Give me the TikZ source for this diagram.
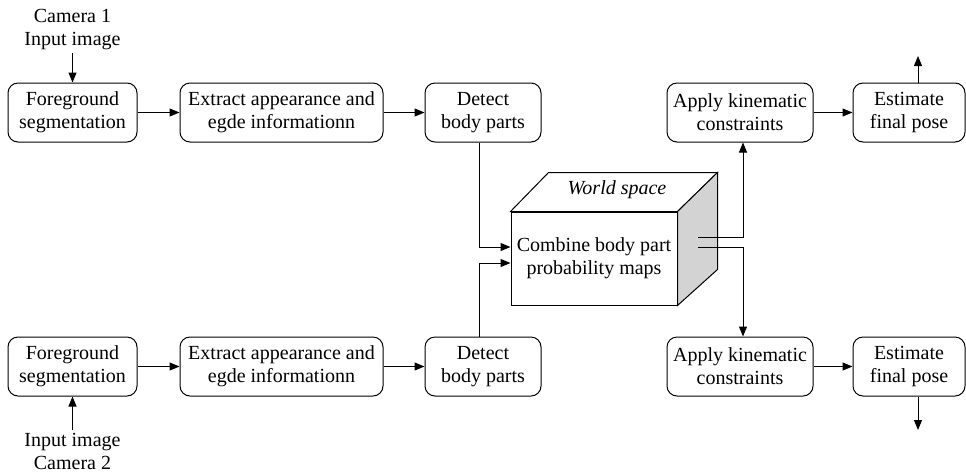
\documentclass[tikz,border=0pt]{standalone}
\usepackage{fontspec}
\setmainfont{Liberation Serif}
\usetikzlibrary{arrows.meta,calc}
\definecolor{sidegray}{RGB}{211,211,211}
\begin{document}
\begin{tikzpicture}[x=0.75pt,y=-0.75pt,
  box/.style={draw, rounded corners=7.5pt, line width=0.75pt, minimum height=44.25pt, align=center, inner sep=0pt},
  lbl/.style={align=center, inner sep=2pt},
  arr/.style={line width=0.75pt, -{Triangle[length=7.5pt,width=6pt]}},
  ln/.style={line width=0.75pt},
  every node/.style={font=\rmfamily\fontsize{15pt}{17.25pt}\selectfont}]
\useasboundingbox (0,0) rectangle (966,472);
% top row
\node[box, minimum width=96.75pt] (a1) at (72.5,112.5) {Foreground\\segmentation};
\node[box, minimum width=152.25pt] (a2) at (281.5,112.5) {Extract appearance and\\egde informationn};
\node[box, minimum width=87pt] (a3) at (483,112.5) {Detect\\body parts};
\node[box, minimum width=109.5pt] (a4) at (740,112.5) {Apply kinematic\\constraints};
\node[box, minimum width=84pt] (a5) at (909,112.5) {Estimate\\final pose};
% bottom row
\node[box, minimum width=96.75pt] (b1) at (72.5,366.5) {Foreground\\segmentation};
\node[box, minimum width=152.25pt] (b2) at (281.5,366.5) {Extract appearance and\\egde informationn};
\node[box, minimum width=87pt] (b3) at (483,366.5) {Detect\\body parts};
\node[box, minimum width=109.5pt] (b4) at (740,366.5) {Apply kinematic\\constraints};
\node[box, minimum width=84pt] (b5) at (909,366.5) {Estimate\\final pose};
% camera labels
\node[lbl] (c1) at (72.5,30) {Camera 1\\Input image};
\node[lbl] (c2) at (72.5,451) {Input image\\Camera 2};
% cube
\node[draw, line width=0.75pt, minimum width=124.5pt, minimum height=69.75pt, align=center, inner sep=0pt, fill=white] (cube) at (594,258.5) {Combine body part\\probability maps};
\draw[ln, fill=white] (cube.north west) -- ++(38,-39) -- ++(169,0) -- (cube.north east) -- cycle;
\draw[ln, fill=sidegray] (cube.north east) -- ++(40,-39) -- ++(0,97) -- (cube.south east) -- cycle;
\node[font=\rmfamily\itshape\fontsize{15pt}{17.25pt}\selectfont] (ws) at (617,190) {World space};
% coordinates
\coordinate (o1) at (918,56);
\coordinate (o2) at (918,430);
\coordinate (s1) at (698,237);
\coordinate (s2) at (698,247);
\coordinate (k1) at (743,237);
\coordinate (k2) at (743,247);
\coordinate (j1) at (479,247);
\coordinate (j2) at (479,263);
% arrows top
\draw[arr] (c1.south) -- (a1.north);
\draw[arr] (a1) -- (a2);
\draw[arr] (a2) -- (a3);
\draw[arr] (a4) -- (a5);
\draw[arr] (a5.north -| o1) -- (o1);
% arrows bottom
\draw[arr] (c2.north) -- (b1.south);
\draw[arr] (b1) -- (b2);
\draw[arr] (b2) -- (b3);
\draw[arr] (b4) -- (b5);
\draw[arr] (b5.south -| o2) -- (o2);
% into cube
\draw[arr] (a3.south -| j1) -- (j1) -- (j1 -| cube.west);
\draw[arr] (b3.north -| j2) -- (j2) -- (j2 -| cube.west);
% out of cube
\draw[arr] (s1) -- (k1) -- (k1 |- a4.south);
\draw[arr] (s2) -- (k2) -- (k2 |- b4.north);
\end{tikzpicture}
\end{document}
